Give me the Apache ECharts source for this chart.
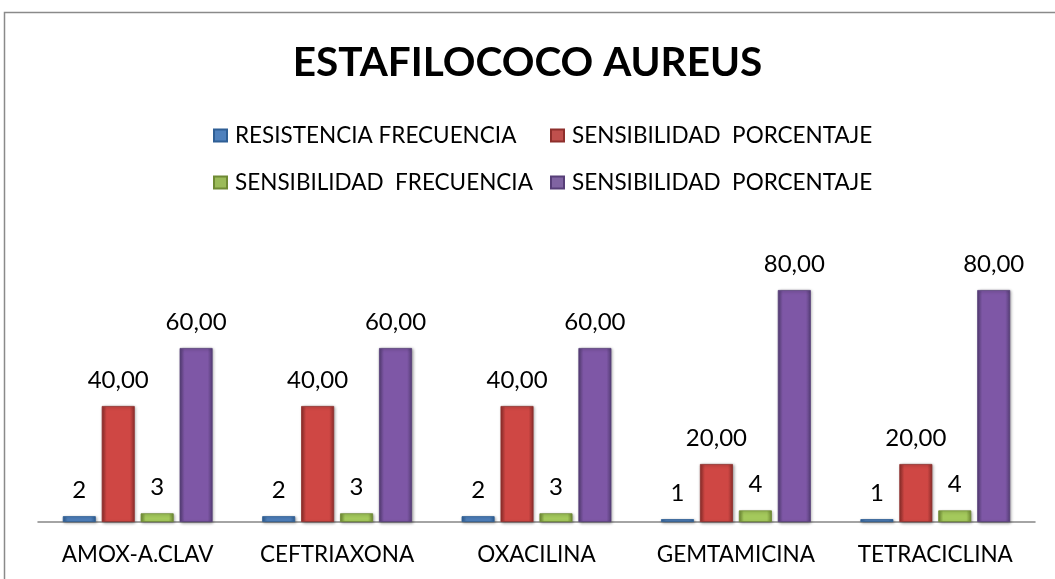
<!DOCTYPE html>
<html><head><meta charset="utf-8">
<script src="https://cdn.jsdelivr.net/npm/echarts@6/dist/echarts.min.js"></script>
<style>html,body{margin:0;padding:0;background:#fff}#c{width:1055px;height:579px}</style>
</head><body><div id="c"></div>
<script>
var categories = ['AMOX-A.CLAV', 'CEFTRIAXONA', 'OXACILINA', 'GEMTAMICINA', 'TETRACICLINA'];
var resistenciaFrecuencia = [2, 2, 2, 1, 1];
var resistenciaPorcentaje = [40, 40, 40, 20, 20];
var sensibilidadFrecuencia = [3, 3, 3, 4, 4];
var sensibilidadPorcentaje = [60, 60, 60, 80, 80];
var seriesNames = ['RESISTENCIA FRECUENCIA', 'SENSIBILIDAD  PORCENTAJE', 'SENSIBILIDAD  FRECUENCIA', 'SENSIBILIDAD  PORCENTAJE '];

var FONT = 'Lato, "Open Sans", sans-serif';
function grad(dark, mid) {
  return new echarts.graphic.LinearGradient(0, 0, 1, 0, [
    {offset: 0, color: dark}, {offset: 0.15, color: mid}, {offset: 0.85, color: mid}, {offset: 1, color: dark}
  ]);
}
var styles = [
  {dark: '#2f5f95', mid: '#4F81BD', legend: '#4F81BD'},
  {dark: '#8e2f2c', mid: '#cf4744', legend: '#C0504D'},
  {dark: '#6f8a34', mid: '#a4c95c', legend: '#9BBB59'},
  {dark: '#573f78', mid: '#7e57a6', legend: '#8064A2'}
];
var dataSets = [resistenciaFrecuencia, resistenciaPorcentaje, sensibilidadFrecuencia, sensibilidadPorcentaje];
var decimals = [0, 2, 0, 2];

var series = dataSets.map(function (d, i) {
  return {
    name: seriesNames[i],
    type: 'bar',
    data: d,
    barWidth: 33,
    barGap: '18%',
    itemStyle: {
      color: grad(styles[i].dark, styles[i].mid),
      borderColor: styles[i].dark, borderWidth: 0.8,
      shadowBlur: 3, shadowColor: 'rgba(0,0,0,0.35)', shadowOffsetX: 1, shadowOffsetY: 1
    },
    label: {
      show: true, position: 'top', distance: 14,
      fontFamily: FONT, fontSize: 24, color: '#000',
      formatter: function (p) { return decimals[i] ? p.value.toFixed(2).replace('.', ',') : String(p.value); }
    }
  };
});

var legendPos = [[213, 124], [550, 124], [213, 171], [550, 171]];
var legends = seriesNames.map(function (n, i) {
  return {
    data: [{name: n, itemStyle: {color: styles[i].legend}}],
    left: legendPos[i][0], top: legendPos[i][1], padding: 0,
    icon: 'rect', itemWidth: 13, itemHeight: 12, itemGap: 4,
    textStyle: {fontFamily: FONT, fontSize: 22.5, color: '#000', padding: [3, 0, 0, 3]},
    selectedMode: false
  };
});

var chart = echarts.init(document.getElementById('c'));
chart.setOption({
  backgroundColor: '#fff',
  animation: false,
  title: {
    text: 'ESTAFILOCOCO AUREUS', left: 'center', top: 42, padding: 0,
    textStyle: {fontFamily: FONT, fontSize: 40.5, fontWeight: 'bold', color: '#000'}
  },
  legend: legends,
  grid: {left: 38, right: 20, top: 232, bottom: 57},
  xAxis: {
    type: 'category', data: categories,
    axisLine: {lineStyle: {color: '#868686', width: 1.5}},
    axisTick: {show: false},
    axisLabel: {interval: 0, fontFamily: FONT, fontSize: 22.5, color: '#000', margin: 21}
  },
  yAxis: {type: 'value', min: 0, max: 100, show: false, splitLine: {show: false}},
  graphic: [{
    type: 'rect', shape: {x: 4.5, y: 12.5, width: 1200, height: 800},
    style: {fill: null, stroke: '#8a8a8a', lineWidth: 1.5}, silent: true
  }],
  series: series
});
</script></body></html>
